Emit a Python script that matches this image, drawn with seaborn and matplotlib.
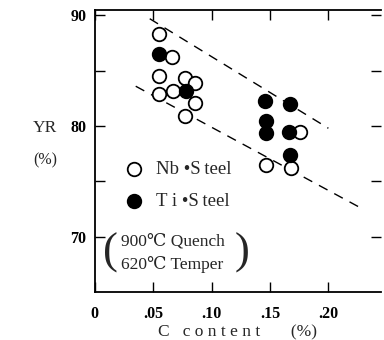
import numpy as np
import pandas as pd
import seaborn as sns
import matplotlib.pyplot as plt
from matplotlib.ticker import FixedLocator

# data
nb_c = [0.055, 0.066, 0.055, 0.055, 0.067, 0.077, 0.086, 0.086, 0.077, 0.147, 0.168, 0.176]
nb_yr = [88.3, 86.2, 84.5, 82.9, 83.2, 84.3, 83.9, 82.1, 80.9, 76.5, 76.2, 79.5]
ti_c = [0.055, 0.078, 0.146, 0.167, 0.147, 0.147, 0.166, 0.167]
ti_yr = [86.5, 83.2, 82.3, 82.0, 80.5, 79.4, 79.5, 77.4]

upper_c = [0.047, 0.200]
upper_yr = [89.7, 79.8]
lower_c = [0.035, 0.226]
lower_yr = [83.6, 72.7]

xticks = [0, 0.05, 0.10, 0.15, 0.20]
xticklabels = ['0', '.05', '.10', '.15', '.20']
yticks = [70, 75, 80, 85, 90]
yticklabels = ['70', '', '80', '', '90']

sns.set_style('ticks')
serif = ['Liberation Serif', 'DejaVu Serif']
plt.rcParams['font.family'] = serif

fig = plt.figure(figsize=(3.84, 3.40), dpi=100)
ax = fig.add_axes([0.247, 0.141, 0.745, 0.830])

nb = pd.DataFrame({'c': nb_c, 'yr': nb_yr})
ti = pd.DataFrame({'c': ti_c, 'yr': ti_yr})
sns.scatterplot(data=nb, x='c', y='yr', ax=ax, s=95, facecolor='white',
                edgecolor='black', linewidth=1.3, label='Nb \u2022S\u2009teel', zorder=3)
sns.scatterplot(data=ti, x='c', y='yr', ax=ax, s=95, color='black',
                edgecolor='black', linewidth=1.3, label='T i \u2022S\u2009teel', zorder=3)

ax.plot(upper_c, upper_yr, color='black', lw=1.0, dashes=(7, 5.5))
ax.plot(lower_c, lower_yr, color='black', lw=1.0, dashes=(7, 5.5))

ax.set_xlim(0, 0.245)
ax.set_ylim(65, 90.5)
ax.xaxis.set_major_locator(FixedLocator(xticks))
ax.set_xticklabels(xticklabels, fontweight='bold', fontsize=11.5)
ax.yaxis.set_major_locator(FixedLocator(yticks))
ax.set_yticklabels(yticklabels, fontweight='bold', fontsize=11.5)
ax.tick_params(direction='in', length=7, width=1.0, top=True, right=True,
               colors='black')
ax.tick_params(axis='x', pad=10)
ax.tick_params(axis='y', pad=6)
for sp in ax.spines.values():
    sp.set_linewidth(1.3)
    sp.set_color('black')
ax.spines['right'].set_visible(False)

ax.set_xlabel('C   c o n t e n t       (%)', fontsize=12.5, labelpad=2)
ax.set_ylabel('')
fig.text(0.117, 0.623, 'YR', fontsize=12.5, ha='center', va='center')
fig.text(0.117, 0.528, '(%)', fontsize=11.5, ha='center', va='center')

leg = ax.legend(loc='upper left', bbox_to_anchor=(0.045, 0.49), frameon=False,
                fontsize=13.5, handletextpad=0.15, labelspacing=0.75, borderaxespad=0)

ax.text(0.09, 0.138, '900\u2103 Quench\n620\u2103 Temper', transform=ax.transAxes,
        fontsize=12.5, ha='left', va='center', linespacing=1.45)
ax.text(0.03, 0.138, '(', transform=ax.transAxes, fontsize=32, ha='left', va='center',
        fontweight='light')
ax.text(0.49, 0.138, ')', transform=ax.transAxes, fontsize=32, ha='left', va='center',
        fontweight='light')

fig.savefig('out.png', dpi=100)
